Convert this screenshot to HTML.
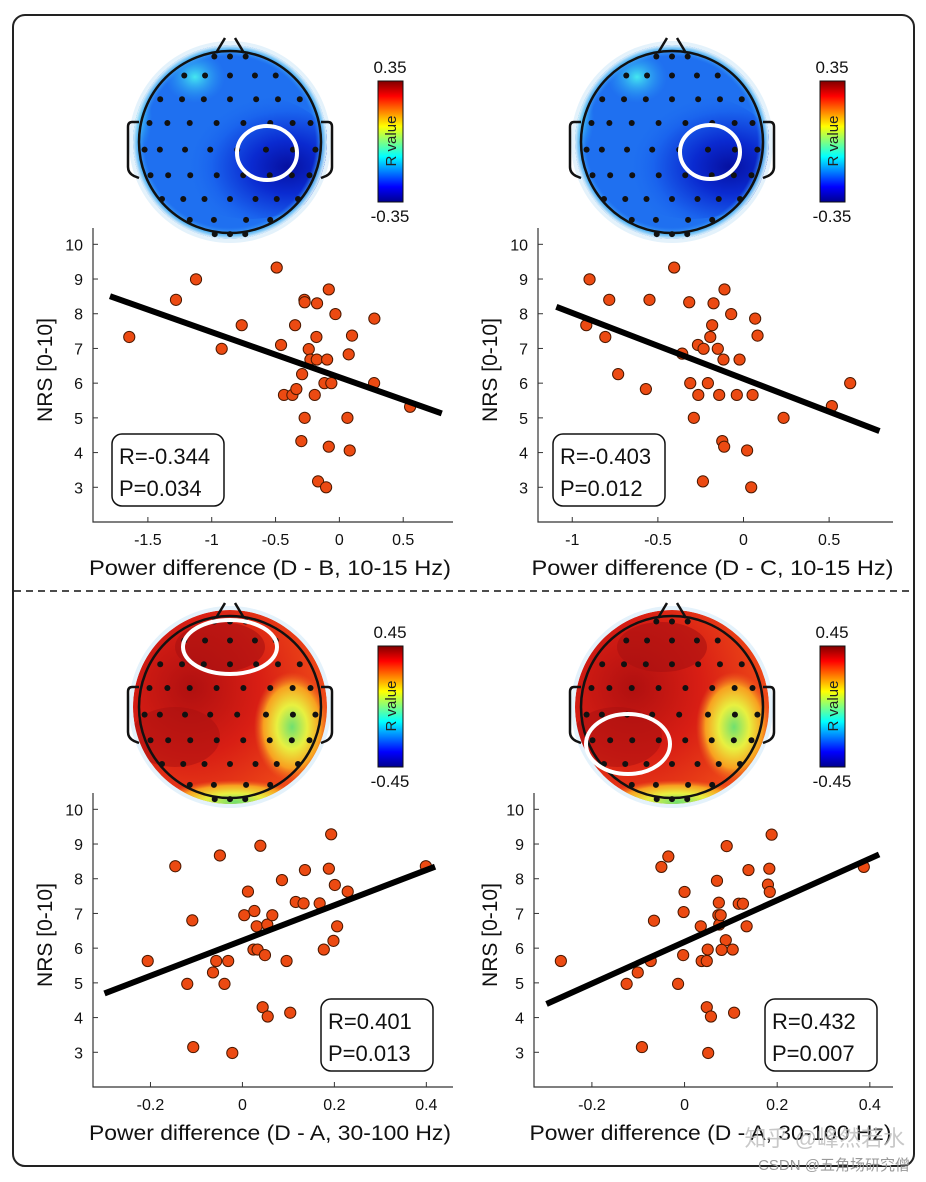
<!DOCTYPE html>
<html><head><meta charset="utf-8"><style>
html,body{margin:0;padding:0;background:#fff}
svg{display:block;font-family:"Liberation Sans",Arial,"Noto Sans CJK SC",sans-serif}
</style></head><body>
<svg id="fig" width="926" height="1182" viewBox="0 0 926 1182" xmlns="http://www.w3.org/2000/svg">
<defs>
<radialGradient id="gBlueA" cx="0.72" cy="0.58" r="0.6"><stop offset="0" stop-color="#0610a0"/><stop offset="0.35" stop-color="#0a2ad0"/><stop offset="0.75" stop-color="#1a64ee"/><stop offset="1" stop-color="#1f70f0" stop-opacity="0"/></radialGradient>
<radialGradient id="gCyan" cx="0.5" cy="0.5" r="0.5"><stop offset="0" stop-color="#45e8f0"/><stop offset="1" stop-color="#2a9af5" stop-opacity="0"/></radialGradient>
<radialGradient id="gRed" cx="0.3" cy="0.4" r="0.7"><stop offset="0" stop-color="#b01010"/><stop offset="0.5" stop-color="#d81e14"/><stop offset="1" stop-color="#ef4a18"/></radialGradient>
<radialGradient id="gYel" cx="0.5" cy="0.5" r="0.5"><stop offset="0" stop-color="#70e070"/><stop offset="0.4" stop-color="#e8f040"/><stop offset="0.75" stop-color="#f8a020"/><stop offset="1" stop-color="#f06020" stop-opacity="0"/></radialGradient>
<radialGradient id="gRing" cx="0.5" cy="0.5" r="0.5"><stop offset="0.88" stop-color="#2a8af5" stop-opacity="0"/><stop offset="0.95" stop-color="#5ac0f5" stop-opacity="0.8"/><stop offset="1" stop-color="#e4f2fb"/></radialGradient>
<linearGradient id="jet" x1="0" y1="1" x2="0" y2="0"><stop offset="0" stop-color="#00008f"/><stop offset="0.125" stop-color="#0000ff"/><stop offset="0.375" stop-color="#00ffff"/><stop offset="0.5" stop-color="#80ff80"/><stop offset="0.625" stop-color="#ffff00"/><stop offset="0.875" stop-color="#ff0000"/><stop offset="1" stop-color="#800000"/></linearGradient>
<clipPath id="hc1"><circle cx="230" cy="142" r="97"/></clipPath>
<clipPath id="hc2"><circle cx="672" cy="142" r="97"/></clipPath>
<clipPath id="hc3"><circle cx="230" cy="707" r="97"/></clipPath>
<clipPath id="hc4"><circle cx="672" cy="707" r="97"/></clipPath>
</defs>
<rect x="13" y="15" width="901" height="1151" rx="12" fill="none" stroke="#222" stroke-width="2"/>
<line x1="14" y1="591" x2="913" y2="591" stroke="#111" stroke-width="1.5" stroke-dasharray="7,5"/>
<g id="heads"></g>
<g id="plots"></g>
<text x="905" y="1146" text-anchor="end" font-size="22" fill="#bbb" opacity="0.8">知乎 @峰然若水</text>
<text x="910" y="1170" text-anchor="end" font-size="15" fill="#999">CSDN @五角场研究僧</text>
</svg>
<script>
// ---------- chart data ----------
const tlX = [-1.646,-1.280,-1.123,-0.922,-0.765,-0.491,-0.457,-0.434,-0.368,-0.337,-0.347,-0.292,-0.274,-0.272,-0.272,-0.298,-0.240,-0.227,-0.177,-0.180,-0.175,-0.193,-0.167,-0.104,-0.096,-0.117,-0.083,-0.063,-0.083,-0.031,0.073,0.063,0.099,0.081,0.274,0.272,0.554];
const tlY = [7.33,8.40,8.99,6.99,7.67,9.33,7.10,5.66,5.66,5.83,7.67,6.26,8.40,8.33,5.00,4.33,6.98,6.68,6.68,7.33,8.30,5.66,3.17,3.00,6.68,6.00,8.70,6.00,4.17,7.99,6.83,5.00,7.37,4.06,7.86,6.00,5.32];
const trX = [-0.899,-0.784,-0.918,-0.807,-0.732,-0.570,-0.549,-0.405,-0.358,-0.317,-0.311,-0.266,-0.233,-0.264,-0.290,-0.208,-0.194,-0.183,-0.175,-0.150,-0.142,-0.117,-0.111,-0.124,-0.113,-0.237,-0.072,-0.023,-0.039,0.053,0.021,0.045,0.068,0.082,0.234,0.516,0.623];
const trY = [8.99,8.40,7.67,7.33,6.26,5.83,8.40,9.33,6.85,8.33,6.00,7.10,6.99,5.66,5.00,6.00,7.33,7.67,8.30,6.99,5.66,6.68,8.70,4.33,4.17,3.17,7.99,6.68,5.66,5.66,4.06,3.00,7.86,7.37,5.00,5.34,6.00];
const blX = [-0.206,-0.146,-0.049,-0.109,-0.120,-0.107,-0.057,-0.064,-0.039,-0.031,-0.022,0.004,0.012,0.026,0.031,0.054,0.024,0.033,0.049,0.065,0.039,0.044,0.055,0.086,0.096,0.104,0.116,0.133,0.136,0.168,0.177,0.188,0.201,0.193,0.206,0.198,0.229,0.399];
const blY = [5.63,8.36,8.67,6.80,4.97,3.15,5.63,5.30,4.97,5.63,2.98,6.95,7.63,7.07,6.63,6.68,5.96,5.96,5.80,6.95,8.95,4.30,4.03,7.96,5.63,4.14,7.33,7.29,8.25,7.29,5.96,8.29,7.82,9.28,6.63,6.21,7.63,8.36];
const brX = [-0.267,-0.125,-0.101,-0.073,-0.066,-0.092,-0.050,-0.035,-0.014,-0.003,-0.002,0.000,0.035,0.037,0.048,0.050,0.048,0.057,0.051,0.070,0.073,0.075,0.074,0.078,0.089,0.080,0.091,0.104,0.107,0.117,0.126,0.134,0.138,0.180,0.183,0.184,0.188,0.387];
const brY = [5.63,4.97,5.30,5.63,6.79,3.15,8.34,8.64,4.97,5.80,7.04,7.62,6.63,5.63,5.63,5.96,4.30,4.03,2.98,7.94,6.95,6.68,7.31,6.95,6.23,5.95,8.94,5.96,4.14,7.28,7.28,6.63,8.25,7.83,8.29,7.62,9.27,8.34];
const fitSlope = [-1.30,-1.897,5.08,6.0];
const fitIntercept = [6.17,6.127,6.22,6.18];
const fitRange = [[-1.797,0.802],[-1.093,0.794],[-0.30,0.419],[-0.298,0.420]];
const xTicksTop1 = [-1.5,-1,-0.5,0,0.5];
const xTicksTop2 = [-1,-0.5,0,0.5];
const xTicksBot = [-0.2,0,0.2,0.4];
const yTicks = [3,4,5,6,7,8,9,10];
const statR = ["R=-0.344","R=-0.403","R=0.401","R=0.432"];
const statP = ["P=0.034","P=0.012","P=0.013","P=0.007"];
const xTitles = ["Power difference (D - B, 10-15 Hz)","Power difference (D - C, 10-15 Hz)","Power difference (D - A, 30-100 Hz)","Power difference (D - A, 30-100 Hz)"];

const NS="http://www.w3.org/2000/svg";
function mk(tag,attrs,parent){const e=document.createElementNS(NS,tag);for(const k in attrs)e.setAttribute(k,attrs[k]);parent.appendChild(e);return e;}

const panels=[
 {xs:tlX,ys:tlY,ticks:xTicksTop1,xd:[-1.93,0.89],px:[93,453],oy:0,box:[112,434],ylab:45},
 {xs:trX,ys:trY,ticks:xTicksTop2,xd:[-1.20,0.873],px:[538,893],oy:0,box:[553,434],ylab:490},
 {xs:blX,ys:blY,ticks:xTicksBot,xd:[-0.325,0.458],px:[93,453],oy:565,box:[321,999],ylab:45},
 {xs:brX,ys:brY,ticks:xTicksBot,xd:[-0.325,0.45],px:[534,893],oy:565,box:[765,999],ylab:490}
];
const plots=document.getElementById('plots');
panels.forEach((p,i)=>{
 const g=mk('g',{},plots);
 
 
 const sx=v=>p.px[0]+(v-p.xd[0])/(p.xd[1]-p.xd[0])*(p.px[1]-p.px[0]);
 const sy=v=>p.oy+522-(v-2)/(10.47-2)*(522-228);
 const ax=mk('path',{d:`M${p.px[0]},${p.oy+228} V${p.oy+522} H${p.px[1]}`,fill:'none',stroke:'#333','stroke-width':1.2},g);
 
 
 yTicks.forEach(t=>{
  mk('line',{x1:p.px[0],x2:p.px[0]+5,y1:sy(t),y2:sy(t),stroke:'#333','stroke-width':1},g);
  const tl=mk('text',{x:p.px[0]-10,y:sy(t)+6,'text-anchor':'end','font-size':16,fill:'#111'},g);
  
  
  tl.textContent=t;
 });
 p.ticks.forEach(t=>{
  mk('line',{x1:sx(t),x2:sx(t),y1:p.oy+522,y2:p.oy+517,stroke:'#333','stroke-width':1},g);
  const tl=mk('text',{x:sx(t),y:p.oy+545,'text-anchor':'middle','font-size':16,fill:'#111'},g);
  
  
  tl.textContent=t;
 });
 const yt=mk('text',{x:p.ylab+7,y:p.oy+370,'text-anchor':'middle','font-size':21,fill:'#111',transform:`rotate(-90 ${p.ylab+7} ${p.oy+370})`},g);
 
 
 yt.textContent='NRS [0-10]';
 const xc=(p.px[0]+p.px[1])/2-3;
 const xt=mk('text',{x:xc,y:p.oy+575,'text-anchor':'middle','font-size':21,fill:'#111',textLength:362,lengthAdjust:'spacingAndGlyphs'},g);
 
 
 xt.textContent=xTitles[i];
 p.xs.forEach((x,j)=>{
  const c=mk('circle',{cx:sx(x),cy:sy(p.ys[j]),r:5.6,fill:'#ec4a12',stroke:'#4a1800','stroke-width':1},g);
  
  
 });
 const r=fitRange[i];
 const ln=mk('line',{x1:sx(r[0]),y1:sy(fitIntercept[i]+fitSlope[i]*r[0]),x2:sx(r[1]),y2:sy(fitIntercept[i]+fitSlope[i]*r[1]),stroke:'#000','stroke-width':6},g);
 
 
 const bx=mk('g',{},g);
 
 
 mk('rect',{x:p.box[0],y:p.box[1],width:112,height:72,rx:10,fill:'#fff',stroke:'#111','stroke-width':1.5},bx);
 mk('text',{x:p.box[0]+7,y:p.box[1]+30,'font-size':22,fill:'#111'},bx).textContent=statR[i];
 mk('text',{x:p.box[0]+7,y:p.box[1]+62,'font-size':22,fill:'#111'},bx).textContent=statP[i];
});

// ---------- topoplots ----------
const heads=document.getElementById('heads');
const headDefs=[
 {cx:230,cy:142,type:'blue',el:[267,153,30,27],cb:[378,81],lab:['0.35','-0.35']},
 {cx:672,cy:142,type:'blue',el:[710,152,30,27],cb:[820,81],lab:['0.35','-0.35']},
 {cx:230,cy:707,type:'red',el:[230,647,47,27],cb:[378,646],lab:['0.45','-0.45']},
 {cx:672,cy:707,type:'red',el:[628,744,42,30],cb:[820,646],lab:['0.45','-0.45']}
];
const elecRows=[[-0.9,[-0.2,0,0.2]],[-0.7,[-0.55,-0.3,0,0.3,0.55]],[-0.45,[-0.8,-0.55,-0.3,0,0.3,0.55,0.8]],[-0.2,[-0.9,-0.7,-0.45,-0.15,0.15,0.45,0.7,0.9]],[0.08,[-0.95,-0.78,-0.5,-0.22,0.08,0.4,0.7,0.95]],[0.35,[-0.9,-0.7,-0.45,-0.15,0.15,0.45,0.7,0.9]],[0.6,[-0.8,-0.55,-0.3,0,0.3,0.55,0.8]],[0.82,[-0.5,-0.2,0.2,0.5]],[0.97,[-0.2,0,0.2]]];
headDefs.forEach((h,i)=>{
 const g=mk('g',{},heads);
 
 
 mk('circle',{cx:h.cx,cy:h.cy,r:101,fill:'#e4f2fb'},g);
 const m=mk('g',{'clip-path':`url(#hc${i+1})`},g);
 if(h.type==='blue'){
  mk('circle',{cx:h.cx,cy:h.cy,r:97,fill:'#1f70f0'},m);
  mk('ellipse',{cx:h.cx+20,cy:h.cy+15,rx:85,ry:62,fill:'url(#gBlueA)'},m);
  mk('ellipse',{cx:h.cx-35,cy:h.cy-65,rx:30,ry:26,fill:'url(#gCyan)'},m);
  mk('ellipse',{cx:h.cx-92,cy:h.cy-25,rx:14,ry:35,fill:'url(#gCyan)'},m);
  mk('circle',{cx:h.cx,cy:h.cy,r:97,fill:'url(#gRing)'},m);
 } else {
  mk('circle',{cx:h.cx,cy:h.cy,r:97,fill:'url(#gRed)'},m);
  mk('ellipse',{cx:h.cx+62,cy:h.cy+20,rx:38,ry:55,fill:'url(#gYel)'},m);
  mk('ellipse',{cx:h.cx+5,cy:h.cy+95,rx:75,ry:22,fill:'url(#gYel)'},m);
  mk('ellipse',{cx:h.cx-10,cy:h.cy-60,rx:45,ry:25,fill:'#a81010',opacity:0.6},m);
  mk('ellipse',{cx:h.cx-55,cy:h.cy+30,rx:45,ry:30,fill:'#a81010',opacity:0.5},m);
 }
 mk('circle',{cx:h.cx,cy:h.cy,r:91,fill:'none',stroke:'#111','stroke-width':2.5},g);
 mk('path',{d:`M${h.cx-14},${h.cy-89} L${h.cx-5},${h.cy-104} M${h.cx+5},${h.cy-104} L${h.cx+14},${h.cy-89}`,stroke:'#111','stroke-width':2.5,fill:'none'},g);
 mk('path',{d:`M${h.cx-91},${h.cy-20} h-7 q-4,0 -4,5 v40 q0,6 6,9 l5,2`,stroke:'#111','stroke-width':2.5,fill:'none'},g);
 mk('path',{d:`M${h.cx+91},${h.cy-20} h7 q4,0 4,5 v40 q0,6 -6,9 l-5,2`,stroke:'#111','stroke-width':2.5,fill:'none'},g);
 elecRows.forEach(r=>r[1].forEach(x=>{
  mk('circle',{cx:h.cx+x*90*Math.sqrt(Math.max(0.1,1-r[0]*r[0]*0.3)),cy:h.cy+r[0]*95,r:3,fill:'#111'},g);
 }));
 const e=mk('ellipse',{cx:h.el[0],cy:h.el[1],rx:h.el[2],ry:h.el[3],fill:'none',stroke:'#fff','stroke-width':4},g);
 
 
 const cb=mk('g',{},g);
 
 
 mk('rect',{x:h.cb[0],y:h.cb[1],width:25,height:121,fill:'url(#jet)',stroke:'#111','stroke-width':1},cb);
 mk('text',{x:h.cb[0]+12,y:h.cb[1]-8,'text-anchor':'middle','font-size':17,fill:'#111'},cb).textContent=h.lab[0];
 mk('text',{x:h.cb[0]+12,y:h.cb[1]+141,'text-anchor':'middle','font-size':17,fill:'#111'},cb).textContent=h.lab[1];
 mk('text',{x:h.cb[0]+18,y:h.cb[1]+60,'text-anchor':'middle','font-size':15,fill:'#222',transform:`rotate(-90 ${h.cb[0]+18} ${h.cb[1]+60})`},cb).textContent='R value';
});
</script>
</body></html>
